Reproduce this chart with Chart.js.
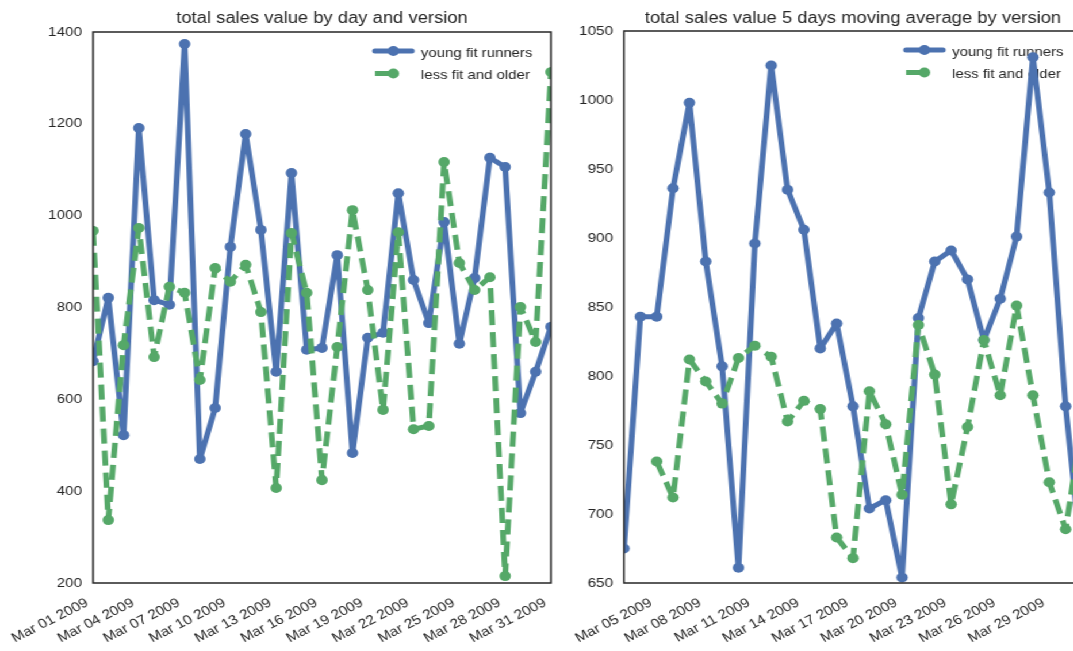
<!DOCTYPE html>
<html><head><meta charset="utf-8">
<script src="https://cdn.jsdelivr.net/npm/chart.js@4.4.1/dist/chart.umd.min.js"></script>
<style>
html,body{margin:0;padding:0;background:#fff;overflow:hidden;width:1073px;height:651px;}
#wrap{position:absolute;left:0;top:0;width:1000px;height:651px;transform:scaleX(1.15);transform-origin:0 0;}
canvas{position:absolute;top:0;}
#c1{left:0;} #c2{left:470px;}
</style></head><body>
<div id="wrap"><canvas id="c1" width="500" height="651"></canvas><canvas id="c2" width="510" height="651"></canvas></div>
<script>
// ---------- data ----------
const dayLabels = ['Mar 01 2009','Mar 02 2009','Mar 03 2009','Mar 04 2009','Mar 05 2009','Mar 06 2009','Mar 07 2009','Mar 08 2009','Mar 09 2009','Mar 10 2009','Mar 11 2009','Mar 12 2009','Mar 13 2009','Mar 14 2009','Mar 15 2009','Mar 16 2009','Mar 17 2009','Mar 18 2009','Mar 19 2009','Mar 20 2009','Mar 21 2009','Mar 22 2009','Mar 23 2009','Mar 24 2009','Mar 25 2009','Mar 26 2009','Mar 27 2009','Mar 28 2009','Mar 29 2009','Mar 30 2009','Mar 31 2009'];
const youngDaily = [683, 821, 522, 1191, 816, 806, 1374, 470, 581, 932, 1178, 969, 660, 1093, 708, 712, 914, 483, 734, 745, 1049, 860, 766, 986, 721, 864, 1126, 1106, 570, 660, 758];
const olderDaily = [967, 337, 718, 973, 692, 845, 832, 642, 886, 856, 893, 790, 407, 962, 832, 424, 714, 1012, 838, 577, 964, 535, 542, 1117, 897, 838, 866, 215, 801, 725, 1313];
const dailyTickLabels = ['Mar 01 2009','Mar 04 2009','Mar 07 2009','Mar 10 2009','Mar 13 2009','Mar 16 2009','Mar 19 2009','Mar 22 2009','Mar 25 2009','Mar 28 2009','Mar 31 2009'];

const maLabels = ['Mar 03 2009','Mar 04 2009','Mar 05 2009','Mar 06 2009','Mar 07 2009','Mar 08 2009','Mar 09 2009','Mar 10 2009','Mar 11 2009','Mar 12 2009','Mar 13 2009','Mar 14 2009','Mar 15 2009','Mar 16 2009','Mar 17 2009','Mar 18 2009','Mar 19 2009','Mar 20 2009','Mar 21 2009','Mar 22 2009','Mar 23 2009','Mar 24 2009','Mar 25 2009','Mar 26 2009','Mar 27 2009','Mar 28 2009','Mar 29 2009','Mar 30 2009','Mar 31 2009'];
const youngMA = [675, 843, 843, 936, 998, 883, 807, 661, 896, 1025, 935, 906, 820, 838, 778, 704, 710, 654, 842, 883, 891, 870, 826, 856, 901, 1031, 933, 778, 665];
const olderMA = [null, null, 738, 712, 812, 796, 780, 813, 822, 814, 767, 782, 776, 683, 668, 789, 765, 714, 837, 801, 707, 763, 826, 786, 851, 786, 723, 689, 765];
const maTickLabels = ['Mar 05 2009','Mar 08 2009','Mar 11 2009','Mar 14 2009','Mar 17 2009','Mar 20 2009','Mar 23 2009','Mar 26 2009','Mar 29 2009'];

const dailyYTicks = [200, 400, 600, 800, 1000, 1200, 1400];
const maYTicks = [650, 700, 750, 800, 850, 900, 950, 1000, 1050];

const seriesNames = ['young fit runners', 'less fit and older'];
const chartTitles = ['total sales value by day and version', 'total sales value 5 days moving average by version'];

// ---------- style ----------
const BLUE = '#4C72B0', GREEN = '#55A868', INK = '#262626';
const FAMILY = '"Liberation Sans", Arial, Helvetica, sans-serif';
const DASH = [15, 7];
const LW = 5;

const decor = {
  id: 'mplDecor',
  beforeDatasetsDraw(chart, args, o) {
    const a = chart.chartArea, ctx = chart.ctx;
    ctx.save();
    const rows = [
      {y: a.top + 19, color: BLUE, dashed: false, text: o.names[0]},
      {y: a.top + 41.5, color: GREEN, dashed: true, text: o.names[1]}
    ];
    rows.forEach(r => {
      ctx.strokeStyle = r.color; ctx.fillStyle = r.color; ctx.lineWidth = LW;
      ctx.beginPath();
      if (r.dashed) { ctx.lineCap = 'butt'; ctx.moveTo(a.right - 153, r.y); ctx.lineTo(a.right - 140, r.y); }
      else { ctx.lineCap = 'round'; ctx.moveTo(a.right - 153, r.y); ctx.lineTo(a.right - 121, r.y); }
      ctx.stroke();
      ctx.beginPath(); ctx.arc(a.right - 137, r.y, 5, 0, Math.PI * 2); ctx.fill();
      ctx.fillStyle = INK; ctx.font = '13px ' + FAMILY; ctx.textAlign = 'left'; ctx.textBaseline = 'alphabetic';
      ctx.fillText(r.text, a.right - 113, r.y + 5.5);
    });
    ctx.restore();
  },
  afterDraw(chart, args, o) {
    const a = chart.chartArea, ctx = chart.ctx;
    ctx.save();
    ctx.strokeStyle = INK; ctx.lineWidth = 1.5;
    ctx.strokeRect(a.left, a.top, a.right - a.left, a.bottom - a.top);
    ctx.fillStyle = INK; ctx.font = '16px ' + FAMILY; ctx.textAlign = 'center'; ctx.textBaseline = 'alphabetic';
    ctx.fillText(o.title, (a.left + a.right) / 2, 23);
    ctx.restore();
  }
};

function makeConfig(labels, s1, s2, tickList, yTicks, yWidth, padRight, padTop, title) {
  return {
    type: 'line',
    data: {
      labels: labels,
      datasets: [
        {label: seriesNames[0], data: s1, borderColor: BLUE, backgroundColor: BLUE, borderWidth: LW,
         pointRadius: 5, pointHoverRadius: 5, pointBorderWidth: 0, pointBackgroundColor: BLUE,
         borderJoinStyle: 'round', borderCapStyle: 'round', tension: 0, fill: false, clip: 0, order: 1},
        {label: seriesNames[1], data: s2, borderColor: GREEN, backgroundColor: GREEN, borderWidth: LW,
         borderDash: DASH, pointRadius: 5, pointHoverRadius: 5, pointBorderWidth: 0, pointBackgroundColor: GREEN,
         borderJoinStyle: 'round', borderCapStyle: 'butt', tension: 0, fill: false, clip: 0, spanGaps: false, order: 0}
      ]
    },
    options: {
      responsive: false, animation: false, devicePixelRatio: 1,
      layout: {padding: {top: padTop, right: padRight, left: 0, bottom: 0}},
      plugins: {legend: {display: false}, title: {display: false}, tooltip: {enabled: false},
                mplDecor: {title: title, names: seriesNames}},
      scales: {
        x: {
          type: 'category', offset: false,
          grid: {display: false, drawTicks: false, tickLength: 0}, border: {display: false},
          ticks: {autoSkip: false, minRotation: 30, maxRotation: 30, padding: 12, labelOffset: -5, color: INK,
                  font: {family: FAMILY, size: 13.3},
                  callback(v) { const l = this.getLabelForValue(v); return tickList.includes(l) ? l : ''; }},
          afterFit(s) { s.height = 68; s.paddingLeft = 0; s.paddingRight = 0; }
        },
        y: {
          min: yTicks[0], max: yTicks[yTicks.length - 1],
          grid: {display: false, drawTicks: false, tickLength: 0}, border: {display: false},
          ticks: {stepSize: yTicks[1] - yTicks[0], padding: 9.5, color: INK, font: {family: FAMILY, size: 13.3},
                  callback(v) { return yTicks.includes(v) ? String(v) : ''; }},
          afterFit(s) { s.width = yWidth; s.paddingTop = 0; s.paddingBottom = 0; }
        }
      }
    },
    plugins: [decor]
  };
}

new Chart(document.getElementById('c1'), makeConfig(dayLabels, youngDaily, olderDaily, dailyTickLabels, dailyYTicks, 80.9, 20.9, 32, chartTitles[0]));
new Chart(document.getElementById('c2'), makeConfig(maLabels, youngMA, olderMA, maTickLabels, maYTicks, 72.6, 39.1, 31, chartTitles[1]));
</script>
</body></html>
